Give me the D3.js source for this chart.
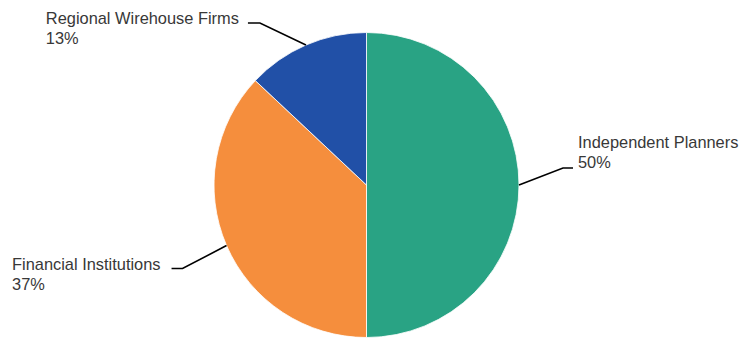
<!DOCTYPE html>
<html>
<head>
<meta charset="utf-8">
<script src="https://cdn.jsdelivr.net/npm/d3@7"></script>
<style>
  body { margin: 0; background: #fff; }
  text { font-family: Arial, "Liberation Sans", sans-serif; font-size: 16.4px; fill: #383838; }
</style>
</head>
<body>
<div id="chart"></div>
<script>
// data
const categories = ["Independent Planners", "Financial Institutions", "Regional Wirehouse Firms"];
const shares = [50, 37, 13];
const colors = ["#29a384", "#f58e3d", "#2150a7"];

const width = 743, height = 338;
const cx = 366.5, cy = 185, radius = 152.5;

// leader line layout: elbow offset from the slice edge, then a short horizontal tail
const leader = [
    {dx: 44, dy: -17, tail: 10, gap: 5, side: "right"},
    {dx: -44, dy: 23, tail: -11, gap: 11, side: "left"},
    {dx: -46, dy: -22, tail: -12, gap: 9, side: "left"}
];

const svg = d3.select("#chart")
    .append("svg")
    .attr("width", width)
    .attr("height", height);

const g = svg.append("g")
    .attr("transform", `translate(${cx},${cy})`);

const pie = d3.pie().sort(null).value(d => d);
const arcs = pie(shares);

const arc = d3.arc().innerRadius(0).outerRadius(radius);

g.selectAll("path.slice")
    .data(arcs)
    .enter()
    .append("path")
    .attr("class", "slice")
    .attr("d", arc)
    .attr("fill", (d, i) => colors[i])
    .attr("stroke", "#ffffff")
    .attr("stroke-width", 0.8);

// leader lines + labels
arcs.forEach((d, i) => {
    const mid = (d.startAngle + d.endAngle) / 2;
    const x0 = radius * Math.sin(mid), y0 = -radius * Math.cos(mid);
    const L = leader[i];
    const x1 = x0 + L.dx, y1 = y0 + L.dy;
    const x2 = x1 + L.tail;

    g.append("polyline")
        .attr("points", [[x0, y0], [x1, y1], [x2, y1]].map(p => p.join(",")).join(" "))
        .attr("fill", "none")
        .attr("stroke", "#000")
        .attr("stroke-width", 1.6);

    const label = g.append("text");
    label.append("tspan").text(categories[i]);
    label.append("tspan").text(shares[i] + "%");

    const w = label.select("tspan").node().getComputedTextLength();
    let tx, firstBase;
    if (L.side === "right") {
        tx = x2 + L.gap;
        firstBase = y1 - 20;
    } else {
        tx = x2 - L.gap - w;
        firstBase = y1 + 1;
    }
    label.selectAll("tspan")
        .attr("x", tx)
        .attr("y", (t, j) => firstBase + j * 20);
});
</script>
</body>
</html>
